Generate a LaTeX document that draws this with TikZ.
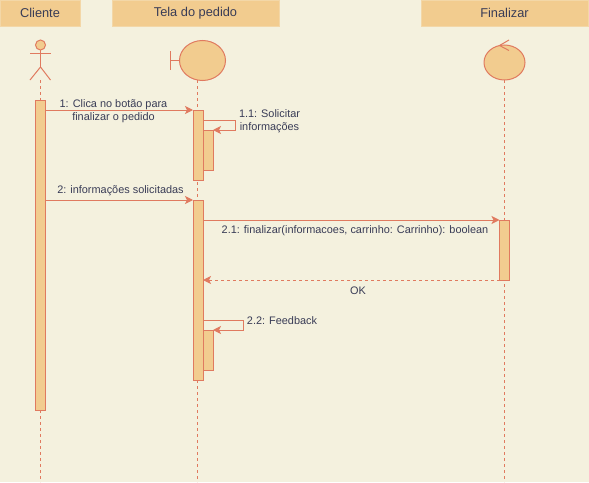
\documentclass[tikz,border=0pt]{standalone}
\usepackage{fontspec}
\setmainfont{Liberation Sans}
\definecolor{sandbg}{HTML}{F4F1DE}
\definecolor{sandfill}{HTML}{F2CC8F}
\definecolor{sandline}{HTML}{E07A5F}
\definecolor{sandtext}{HTML}{393C56}
\usetikzlibrary{arrows.meta, positioning, calc, shapes.geometric}
\tikzset{
  headbox/.style={fill=sandfill, draw=sandfill!70!sandbg, line width=0.8pt, minimum height=26pt, inner sep=0pt, outer sep=0pt, text=sandtext, font=\fontsize{12.8}{15}\selectfont},
  actbox/.style={fill=sandfill, draw=sandline, line width=1pt, minimum width=10pt, inner sep=0pt, outer sep=0pt},
  roundhead/.style={ellipse, fill=sandfill, draw=sandline, line width=1pt, inner sep=0pt, outer sep=0pt},
  figline/.style={draw=sandline, line width=1pt},
  lifeline/.style={draw=sandline, line width=1pt, dash pattern=on 3pt off 3pt},
  msg/.style={draw=sandline, line width=1pt, -{Stealth[length=8pt, width=8pt, inset=2pt]}},
  replymsg/.style={msg, dash pattern=on 3pt off 3pt},
  msglabel/.style={text=sandtext, font=\fontsize{10.9}{13}\selectfont, inner sep=0pt, align=center}
}
\begin{document}
\begin{tikzpicture}[x=1pt, y=-1pt]
  \fill[sandbg] (0, 0) rectangle (589, 482);
  \useasboundingbox (0, 0) rectangle (589, 482);

  % Column titles
  \node[headbox, minimum width=80pt] (cliente) at (40, 13) {Cliente};
  \node[headbox, minimum width=167pt] (tela) at (195.5, 13) {Tela do pedido};
  \node[headbox, minimum width=167pt] (finalizar) at (504.5, 13) {Finalizar};

  % Actor
  \node[circle, fill=sandfill, draw=sandline, line width=1pt, minimum size=10pt, inner sep=0pt, outer sep=0pt] (actorhead) at (40.5, 45) {};
  \coordinate (actorhip) at (40.5, 67);
  \coordinate (actorbase) at (40.5, 80);
  \draw[figline] (30, 53) -- (50.5, 53);
  \draw[figline] (actorhead.south) -- (actorhip);
  \draw[figline] (30, 80) -- (actorhip) -- (50.5, 80);

  % Boundary
  \node[roundhead, minimum width=46pt, minimum height=40pt] (boundary) at (202.5, 60.5) {};
  \coordinate (boundarybase) at (197.5, 80);
  \draw[figline] (170, 51) -- (170, 70);
  \draw[figline] (170, 60.5) -- (boundary.west);

  % Control
  \node[roundhead, minimum width=41pt, minimum height=35pt] (control) at (504.5, 62.5) {};
  \draw[figline] (509, 40) -- (499.5, 45.5) -- (509, 50.5);

  % Lifelines
  \coordinate (clienteend) at (40.5, 482);
  \coordinate (telaend) at (197.5, 482);
  \coordinate (controlend) at (504.5, 482);
  \draw[lifeline] (actorbase) -- (clienteend);
  \draw[lifeline] (boundarybase) -- (telaend);
  \draw[lifeline] (control.south) -- (controlend);

  % Activations
  \node[actbox, minimum height=310pt] (clienteact) at (40.5, 255) {};
  \node[actbox, minimum height=70pt] (telaone) at (198, 145) {};
  \node[actbox, minimum height=40pt] (telaonesub) at (208, 150) {};
  \node[actbox, minimum height=180pt] (telatwo) at (198, 290) {};
  \node[actbox, minimum height=40pt] (telatwosub) at (208, 350) {};
  \node[actbox, minimum height=60pt] (finalact) at (504.5, 250) {};

  % Messages
  \draw[msg] (clienteact.east |- telaone.north) -- (telaone.north west);
  \draw[msg] ($(telaone.north east)+(0, 10)$) -- ++(32, 0) |- (telaonesub.north east);
  \draw[msg] (clienteact.east |- telatwo.north) -- (telatwo.north west);
  \draw[msg] (telatwo.east |- finalact.north) -- (finalact.north west);
  \draw[replymsg] (finalact.south west) -- (telatwo.east |- finalact.south);
  \draw[msg] ($(telatwosub.north west)+(0, -10)$) -- ++(40, 0) |- (telatwosub.north east);

  % Labels
  \node[msglabel] (msgone) at (113.5, 111) {1: Clica no botão para\\finalizar o pedido};
  \node[msglabel] (msgoneone) at (269.5, 121) {1.1: Solicitar\\informações};
  \node[msglabel] (msgtwo) at (120.5, 190.5) {2: informações solicitadas};
  \node[msglabel] (msgtwoone) at (355, 230.5) {2.1: finalizar(informacoes, carrinho: Carrinho): boolean};
  \node[msglabel] (msgok) at (358, 290.5) {OK};
  \node[msglabel] (msgtwotwo) at (282, 320.5) {2.2: Feedback};
\end{tikzpicture}
\end{document}
